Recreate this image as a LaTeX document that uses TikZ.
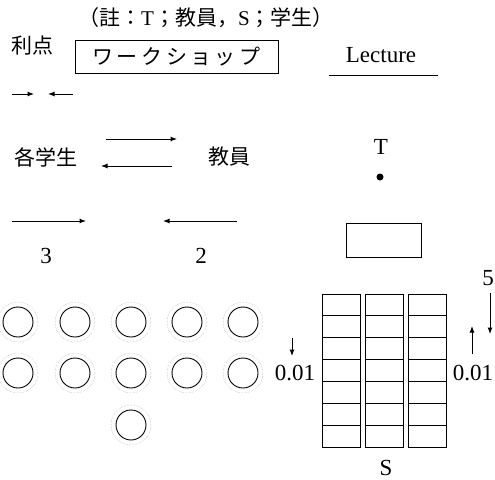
\documentclass[tikz,border=0pt]{standalone}
\usepackage{fontspec}
\setmainfont{Liberation Serif}
\newfontfamily\cjk{Noto Sans CJK JP}
\usetikzlibrary{arrows.meta}
\tikzset{
  txt/.style={inner sep=0pt, font=\fontsize{23}{26}\selectfont},
  jtxt/.style={inner sep=0pt, font=\fontsize{21}{26}\selectfont\cjk},
  arr/.style={line width=1pt, -{Latex[length=6.5pt,width=5pt]}},
  seat/.style={circle, draw, line width=0.9pt, minimum size=30pt, inner sep=0pt},
  halo/.style={draw=gray!60, densely dotted, line width=0.5pt},
  desk/.style={draw, line width=0.9pt},
}
\begin{document}
\begin{tikzpicture}[x=1pt,y=-1pt]
\useasboundingbox (0,0) rectangle (495,479);
% header
\node[txt, font=\fontsize{21}{26}\selectfont] (note) at (206,18) {{\cjk （註：}T{\cjk ；教員，}S{\cjk ；学生）}};
\node[jtxt] (riten) at (33,46) {利点};
\node[draw, line width=0.9pt, minimum width=203pt, minimum height=33pt, inner sep=0pt] (ws) at (176.5,56.5) {};
\node[jtxt] (wstext) at (ws) {ワ\,ー\,ク\,シ\,ョ\,ッ\,プ};
\node[txt] (lec) at (381,55) {Lecture};
\coordinate (lu1) at (329,75); \coordinate (lu2) at (438,75);
\draw[line width=0.9pt] (lu1) -- (lu2);
% small arrows
\coordinate (a1s) at (12,94); \coordinate (a1e) at (34,94);
\coordinate (a2s) at (73,94); \coordinate (a2e) at (48,94);
\draw[arr] (a1s) -- (a1e);
\draw[arr] (a2s) -- (a2e);
% students / teacher
\node[jtxt] (gaku) at (46,157) {各学生};
\node[jtxt] (kyo) at (229,157) {教員};
\coordinate (b1s) at (106,139); \coordinate (b1e) at (177,139);
\coordinate (b2s) at (172,166); \coordinate (b2e) at (101,166);
\draw[arr] (b1s) -- (b1e);
\draw[arr] (b2s) -- (b2e);
% T and dot
\node[txt] (T) at (381,147) {T};
\node[circle, fill, minimum size=7pt, inner sep=0pt] (dot) at (380,177) {};
% 3 and 2 arrows
\coordinate (c1s) at (12,221); \coordinate (c1e) at (86,221);
\coordinate (c2s) at (237,221); \coordinate (c2e) at (163,221);
\draw[arr] (c1s) -- (c1e);
\draw[arr] (c2s) -- (c2e);
\node[txt] (three) at (46,256) {3};
\node[txt] (two) at (201,256) {2};
% lectern
\node[draw, line width=0.9pt, minimum width=75pt, minimum height=34pt, inner sep=0pt] (lectern) at (383.5,240) {};
% circles
\foreach \i/\x in {1/18,2/75,3/131,4/187,5/243}{
  \draw[halo] (\x,322) circle (20);
  \node[seat] (sa\i) at (\x,322) {};
  \draw[halo] (\x,373) circle (20);
  \node[seat] (sb\i) at (\x,373) {};
}
\draw[halo] (131,425) circle (20);
\node[seat] (sc) at (131,425) {};
% desks
\foreach \c/\x in {1/322,2/365,3/408}{
  \foreach \r in {0,...,6}{
    \draw[desk] (\x,{294+\r*21.9}) rectangle ({\x+38},{294+(\r+1)*21.9});
  }
}
\node[txt] (S) at (386,468) {S};
% right side arrows
\node[txt] (five) at (488,278) {5};
\coordinate (d1s) at (490,293); \coordinate (d1e) at (490,334);
\draw[arr] (d1s) -- (d1e);
\coordinate (d2s) at (472,354); \coordinate (d2e) at (472,326);
\draw[arr] (d2s) -- (d2e);
\node[txt] (r001) at (473,373) {0.01};
\coordinate (d3s) at (292,338); \coordinate (d3e) at (292,356);
\draw[arr] (d3s) -- (d3e);
\node[txt] (l001) at (295,373) {0.01};
\end{tikzpicture}
\end{document}
